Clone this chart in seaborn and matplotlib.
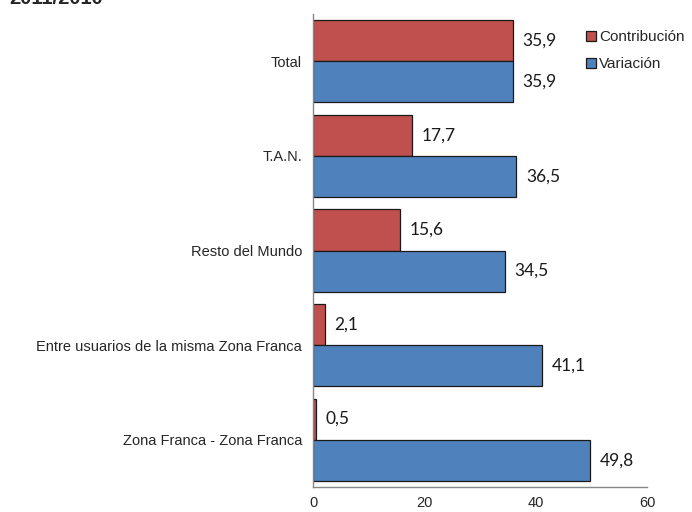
import pandas as pd
import numpy as np
import matplotlib
matplotlib.use('Agg')
import matplotlib.pyplot as plt
import seaborn as sns

# datos
categorias = ['Total', 'T.A.N.', 'Resto del Mundo',
              'Entre usuarios de la misma Zona Franca', 'Zona Franca - Zona Franca']
contribucion = [35.9, 17.7, 15.6, 2.1, 0.5]
variacion = [35.9, 36.5, 34.5, 41.1, 49.8]
series = ['Contribución', 'Variación']
colores = ['#C0504D', '#4F81BD']
xticks = [0, 20, 40, 60]

df = pd.DataFrame({
    'categoria': categorias * 2,
    'serie': [series[0]] * len(categorias) + [series[1]] * len(categorias),
    'valor': contribucion + variacion,
})

sns.set_style('white')
plt.rcParams['font.family'] = ['Liberation Sans', 'DejaVu Sans']

fig = plt.figure(figsize=(6.92, 5.12), dpi=100)
ax = fig.add_axes([313/692, 1 - 487/512, (647 - 313)/692, (487 - 14)/512])

sns.barplot(data=df, x='valor', y='categoria', hue='serie', order=categorias,
            hue_order=series, palette=colores, orient='h', width=0.87,
            edgecolor='#1a1a1a', linewidth=0.9, saturation=1, ax=ax)

# etiquetas de valor con coma decimal
for cont in ax.containers:
    etiquetas = [f'{b.get_width():.1f}'.replace('.', ',') for b in cont]
    ax.bar_label(cont, labels=etiquetas, padding=7, fontsize=12.5,
                 family=['Lato', 'DejaVu Sans'], color='#1a1a1a')

ax.set_xlim(0, 60)
ax.set_xticks(xticks)
ax.set_xticklabels([str(t) for t in xticks], fontsize=10.5)
ax.set_xlabel('')
ax.set_ylabel('')
ax.tick_params(axis='y', length=0, pad=8, labelsize=10.5)
ax.set_yticks(np.arange(-0.5, len(categorias)), minor=True)
ax.tick_params(axis='y', which='minor', length=3.6, color='#868686', direction='out')
ax.tick_params(axis='x', length=3.6, color='#868686', direction='out', pad=3)

for s in ['top', 'right']:
    ax.spines[s].set_visible(False)
for s in ['left', 'bottom']:
    ax.spines[s].set_color('#868686')
    ax.spines[s].set_linewidth(1)

handles, labels = ax.get_legend_handles_labels()
ax.legend(handles, labels, loc='upper left', bbox_to_anchor=(586/692, 1 - 30/512),
          bbox_transform=fig.transFigure, frameon=False, fontsize=11,
          handlelength=0.65, handleheight=0.65, handletextpad=0.2,
          labelspacing=0.85, borderpad=0, borderaxespad=0)

# titulo cortado en la parte superior
fig.text(9/692, 1 - 3.5/512, '2011/2010', fontsize=14.5, fontweight='bold',
         va='baseline', ha='left')

fig.savefig('out.png', dpi=100)
